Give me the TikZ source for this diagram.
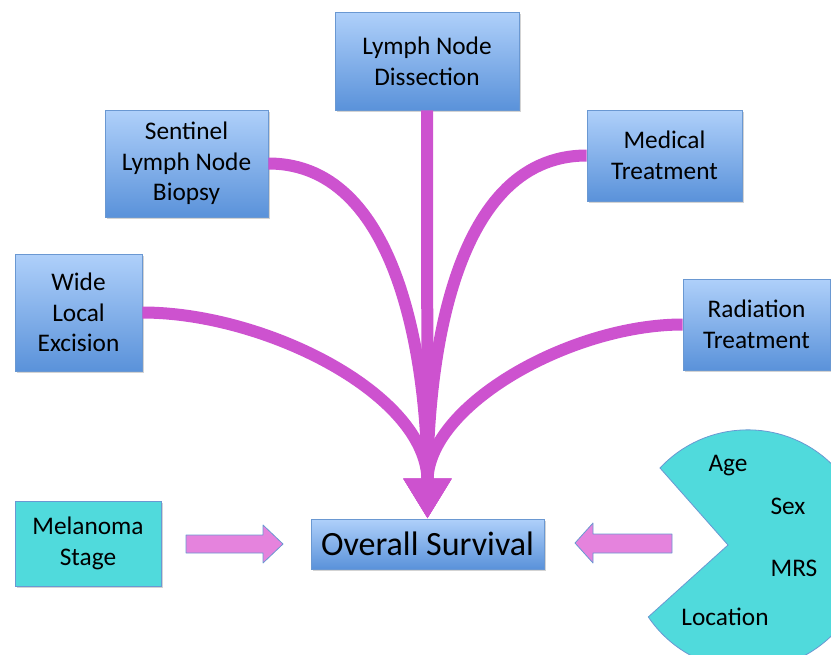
\documentclass[tikz,border=0pt]{standalone}
\usepackage{fontspec}
\setmainfont{Carlito}
\usetikzlibrary{arrows.meta,shadows}
\definecolor{boxtop}{HTML}{AFD0FA}
\definecolor{boxbot}{HTML}{5A92DA}
\definecolor{boxline}{HTML}{6A98D2}
\definecolor{tealfill}{HTML}{50DADC}
\definecolor{curvepink}{HTML}{CD52CF}
\definecolor{blockpink}{HTML}{E583DD}

\tikzset{
  treat/.style={draw=boxline, line width=0.6pt, top color=boxtop, bottom color=boxbot,
    align=center, font=\fontsize{19}{23}\selectfont, inner sep=2pt,
    drop shadow={opacity=0.35, shadow xshift=1.2pt, shadow yshift=-1.5pt}},
  factor/.style={draw=boxline, line width=0.6pt, fill=tealfill, align=center,
    font=\fontsize{19}{23}\selectfont,
    drop shadow={opacity=0.35, shadow xshift=1.2pt, shadow yshift=-1.5pt}},
  flow/.style={draw=curvepink, line width=9pt, -{Triangle[width=34pt,length=30pt]}},
  blockarrow/.style={draw=boxline, line width=0.6pt, fill=blockpink, line join=round},
  paclabel/.style={font=\fontsize{19}{22}\selectfont}
}

\begin{document}
\begin{tikzpicture}[x=0.75pt, y=-0.75pt]
        \useasboundingbox (0,0) rectangle (831,654);
        \clip (0,0) rectangle (831,654);

        % Treatments
        \node[treat, minimum width=138pt, minimum height=73.5pt] (dissect) at (427,61) {Lymph Node\\Dissection};
        \node[treat, minimum width=122.25pt, minimum height=80.25pt] (biopsy) at (186.5,163.5) {Sentinel\\Lymph Node\\Biopsy};
        \node[treat, minimum width=116.25pt, minimum height=68.25pt] (medical) at (664.5,155.5) {Medical\\Treatment};
        \node[treat, minimum width=95.25pt, minimum height=87.75pt] (excision) at (78.5,312.5) {Wide\\Local\\Excision};
        \node[treat, minimum width=110.25pt, minimum height=68.25pt] (radiation) at (756.5,324.5) {Radiation\\Treatment};

        % Outcome
        \node[treat, minimum width=174.75pt, minimum height=37.5pt, font=\fontsize{25.5}{29}\selectfont] (surv) at (427.5,544) {Overall Survival};

        % Stage
        \node[factor, minimum width=109.5pt, minimum height=63.75pt] (stage) at (88,543.5) {Melanoma\\Stage};

        % Curved arrows into survival
        \draw[flow] (excision.east) to[out=0, in=90, looseness=0.9] (surv.north);
        \draw[flow] (biopsy.east) to[out=0, in=90, looseness=0.9] (surv.north);
        \draw[flow] (medical.west) to[out=180, in=90, looseness=0.9] (surv.north);
        \draw[flow] (radiation.west) to[out=180, in=90, looseness=0.9] (surv.north);
        \draw[flow] (dissect.south) -- (surv.north);

        % Block arrows
        \draw[blockarrow] (186,535) -- (263,535) -- (263,525) -- (283,544) -- (263,563) -- (263,553) -- (186,553) -- cycle;
        \draw[blockarrow] (672,534) -- (593,534) -- (593,523) -- (575,543) -- (593,563) -- (593,553) -- (672,553) -- cycle;

        % Patient factors
        \draw[draw=boxline, line width=0.6pt, fill=tealfill] (728,545) -- (660,468)
          arc[start angle=-137, end angle=146, radius=120] -- cycle;
        \node[paclabel] (age) at (728,466) {Age};
        \node[paclabel] (sex) at (788,506) {Sex};
        \node[paclabel] (mrs) at (794,568) {MRS};
        \node[paclabel] (loc) at (725,617) {Location};
      \end{tikzpicture}
\end{document}
